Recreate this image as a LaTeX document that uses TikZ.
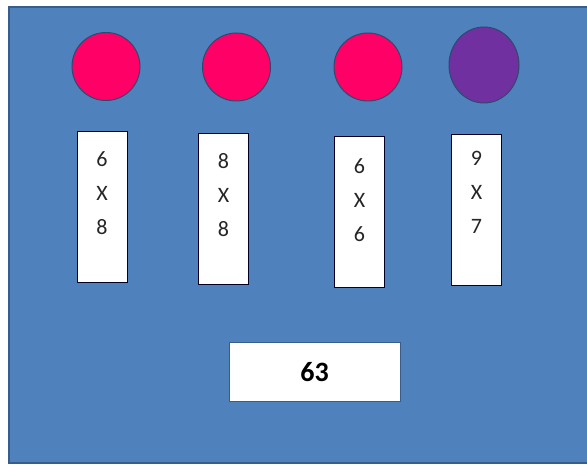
\documentclass[tikz,border=0pt]{standalone}
\usepackage{fontspec}
\setmainfont{Carlito}
\definecolor{bgblue}{HTML}{4F81BD}
\definecolor{edgeblue}{HTML}{385D8A}
\definecolor{dotpink}{HTML}{FF0066}
\definecolor{dotpurple}{HTML}{7030A0}
\begin{document}
\begin{tikzpicture}[x=1pt,y=-1pt,
  dot/.style={draw=edgeblue!80!black,line width=1pt},
  card/.style={draw=black!85!blue,fill=white,line width=1pt,minimum width=50pt,minimum height=151pt,inner sep=0pt},
  cardtext/.style={anchor=north,align=center,inner sep=0pt,font=\fontsize{22}{34}\selectfont,text=black!85},
  answer/.style={draw=edgeblue,fill=white,line width=1pt,minimum width=171pt,minimum height=58pt,font=\fontsize{28}{30}\selectfont\bfseries}]
\useasboundingbox (0,0) rectangle (587,465);
\fill[white] (0,0) rectangle (587,465);
\draw[fill=bgblue,draw=edgeblue,line width=1.5pt] (9,7) rectangle (600,463);
\path[dot,fill=dotpink] (106,66.5) ellipse [x radius=34,y radius=34];
\path[dot,fill=dotpink] (236.5,67) ellipse [x radius=34,y radius=34];
\path[dot,fill=dotpink] (368,67) ellipse [x radius=34,y radius=34];
\path[dot,fill=dotpurple] (484,65) ellipse [x radius=35,y radius=38];
\node[card] (b1) at (102,207) {};
\node[card] (b2) at (223.5,209) {};
\node[card] (b3) at (359.5,212.5) {};
\node[card] (b4) at (476.5,210.5) {};
\node[cardtext] (t1) at ([yshift=-20]b1.north) {6\\X\\8};
\node[cardtext] (t2) at ([yshift=-20]b2.north) {8\\X\\8};
\node[cardtext] (t3) at ([yshift=-22]b3.north) {6\\X\\6};
\node[cardtext] (t4) at ([yshift=-17]b4.north) {9\\X\\7};
\node[answer] (ans) at (314.5,372) {63};
\end{tikzpicture}
\end{document}
